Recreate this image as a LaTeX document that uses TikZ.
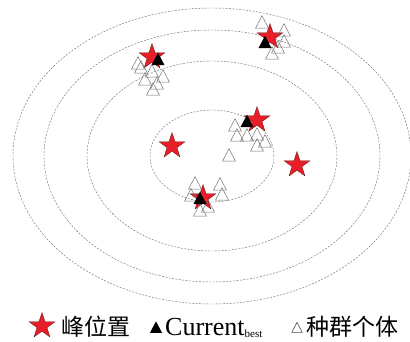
\documentclass[tikz,border=0pt]{standalone}
\usepackage{fontspec}
\setmainfont{Liberation Serif}
\newfontfamily\cjk{Noto Sans CJK SC}
\usetikzlibrary{shapes.geometric}
\definecolor{peakred}{RGB}{232,30,40}
\definecolor{peakline}{RGB}{90,10,10}
\tikzset{
  contour/.style={draw=black!55, dash pattern=on 2pt off 1.4pt, line width=0.45pt},
  peak/.style={star, star points=5, star point ratio=2.6, minimum size=27pt, inner sep=0pt,
    fill=peakred, draw=peakline, line width=0.3pt},
  best/.style={regular polygon, regular polygon sides=3, fill=black, minimum size=15pt, inner sep=0pt, yscale=1.1},
  indiv/.style={regular polygon, regular polygon sides=3, draw=black!55, minimum size=15pt,
    inner sep=0pt, line width=0.5pt, yscale=1.1},
  cjktext/.style={font=\cjk\fontsize{23}{25}\selectfont, inner sep=0pt},
  lattext/.style={font=\fontsize{26}{29}\selectfont, inner sep=0pt},
}
\begin{document}
\begin{tikzpicture}[x=1pt,y=-1pt]
\useasboundingbox (0,0) rectangle (410,342);
\coordinate (ctr) at (212,156);
% contour ellipses
\draw[contour] (ctr) ellipse [x radius=62pt, y radius=46pt];
\draw[contour] (ctr) ellipse [x radius=125pt, y radius=95pt];
\draw[contour] (ctr) ellipse [x radius=168pt, y radius=126pt];
\draw[contour] (ctr) ellipse [x radius=199pt, y radius=148pt];
% peaks
\node[peak] (s1) at (152,57) {};
\node[peak] (s2) at (270,37) {};
\node[peak] (s3) at (257,120) {};
\node[peak] (s4) at (172,146) {};
\node[peak] (s5) at (297,165) {};
\node[peak] (s6) at (203,198) {};
% population individuals
\foreach \p [count=\i] in {(138,65),(141,69),(152,73),(163,78),(145,81),(157,85),(153,91)}
  \node[indiv] (ia\i) at \p {};
\foreach \p [count=\i] in {(262,24),(284,32),(284,43),(278,49),(272,55)}
  \node[indiv] (ib\i) at \p {};
\foreach \p [count=\i] in {(235,127),(237,137),(247,137),(257,136),(265,143),(257,147),(229,157)}
  \node[indiv] (ic\i) at \p {};
\foreach \p [count=\i] in {(195,185),(220,186),(191,197),(222,196),(208,208),(200,212)}
  \node[indiv] (id\i) at \p {};
% current best
\node[best] (b1) at (158,61) {};
\node[best] (b2) at (265,44) {};
\node[best] (b3) at (247,123) {};
\node[best] (b4) at (200,200) {};
% legend
\node[peak] (lstar) at (42,326) {};
\node[cjktext, anchor=base west] (lpeak) at (61,335) {峰位置};
\node[best, minimum size=14pt] (lbest) at (156,329) {};
\node[lattext, anchor=base west] (lcur) at (165,335) {Current{\fontsize{11}{12}\selectfont\raisebox{-2.5pt}{best}}};
\node[indiv, minimum size=12pt, line width=0.6pt, draw=black!70] (lind) at (297,329) {};
\node[cjktext, anchor=base west] (lpop) at (306,335) {种群个体};
\end{tikzpicture}
\end{document}
